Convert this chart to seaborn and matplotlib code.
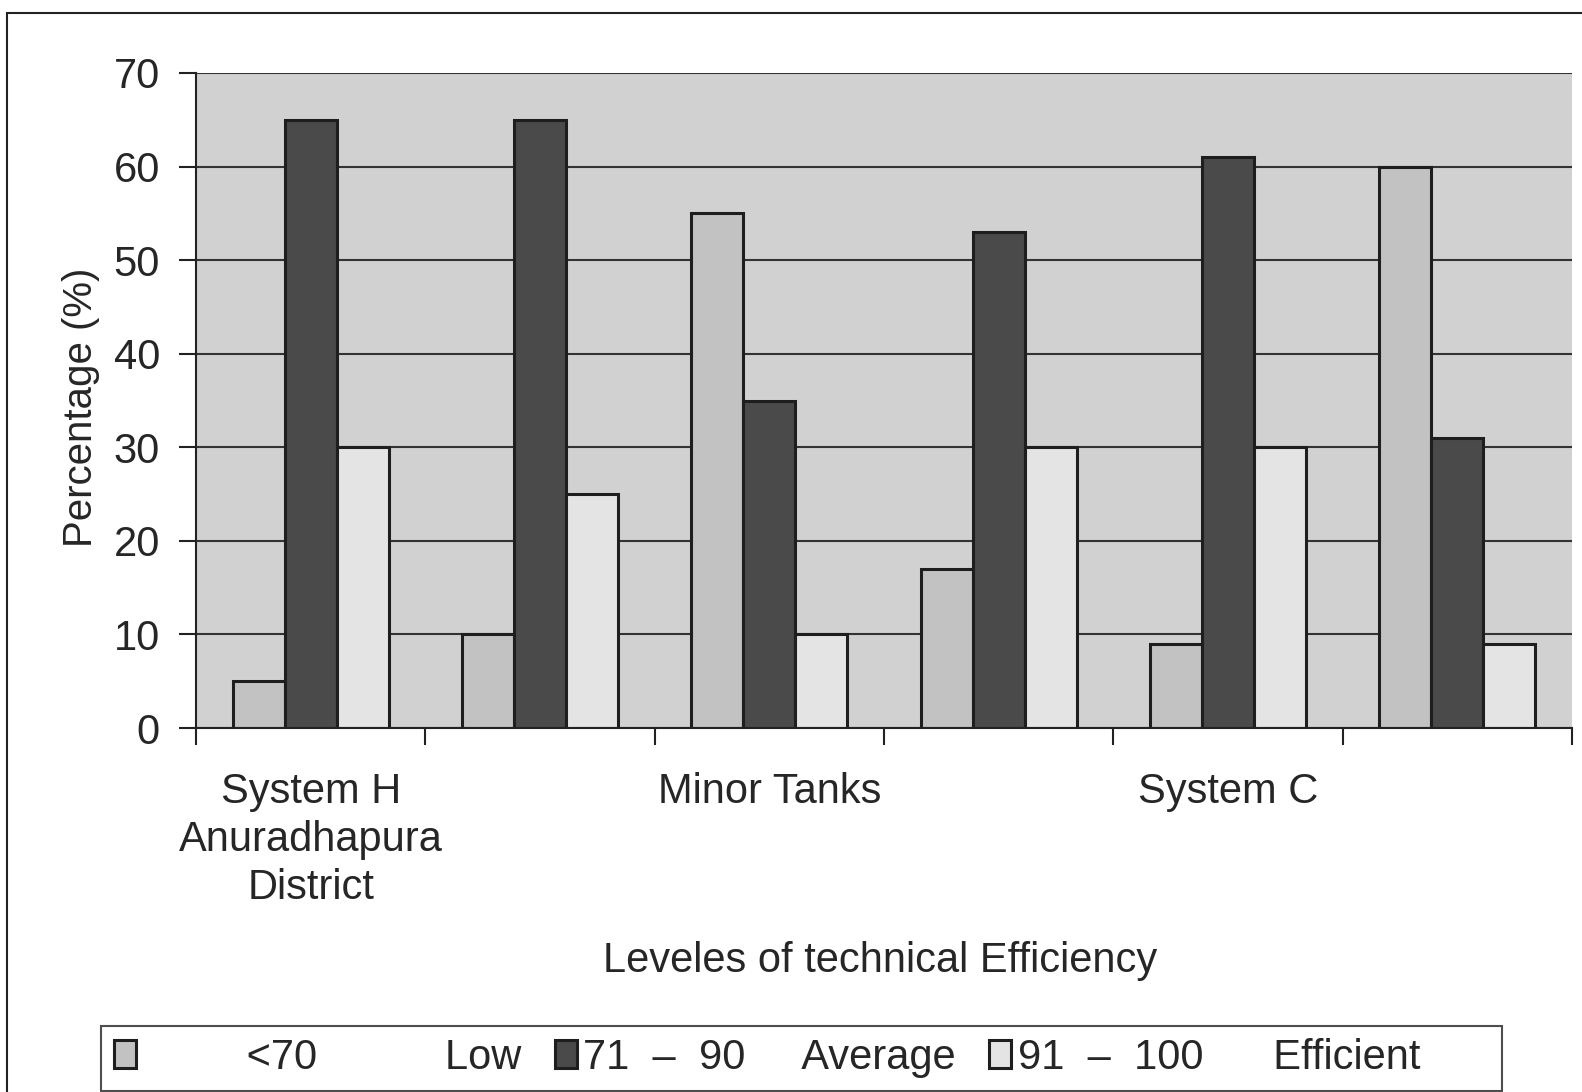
import numpy as np
import pandas as pd
import matplotlib
matplotlib.use("Agg")
import matplotlib.pyplot as plt
from matplotlib.patches import Rectangle
from matplotlib.ticker import FixedLocator
import seaborn as sns

# ---- data ----
group_ids = [0, 1, 2, 3, 4, 5]
group_labels = ["System H\nAnuradhapura\nDistrict", "", "Minor Tanks", "", "System C", ""]
levels = ["         <70           Low  ",
          "71  \u2013  90     Average  ",
          "91  \u2013  100      Efficient      "]
low_vals = [5, 10, 55, 17, 9, 60]
avg_vals = [65, 65, 35, 53, 61, 31]
eff_vals = [30, 25, 10, 30, 30, 9]
y_ticks = [0, 10, 20, 30, 40, 50, 60, 70]

df = pd.DataFrame({
    "group": group_ids * 3,
    "level": [levels[0]] * 6 + [levels[1]] * 6 + [levels[2]] * 6,
    "pct": low_vals + avg_vals + eff_vals,
})

sns.set_style("white")
plt.rcParams["font.family"] = ["Liberation Sans", "DejaVu Sans"]
FS = 30

fig = plt.figure(figsize=(15.82, 10.92), dpi=100)
ax = fig.add_axes([196 / 1582, 1 - 728 / 1092, 1376 / 1582, 655 / 1092])
ax.set_facecolor("#d1d1d1")

palette = {levels[0]: "#c2c2c2", levels[1]: "#4a4a4a", levels[2]: "#e4e4e4"}
sns.barplot(data=df, x="group", y="pct", hue="level", hue_order=levels,
            order=group_ids, palette=palette, width=0.68,
            edgecolor="#1e1e1e", linewidth=2.2, saturation=1, ax=ax)

ax.set_ylim(0, 70)
ax.set_xlim(-0.5, 5.5)
ax.set_yticks(y_ticks)
ax.tick_params(axis="y", labelsize=FS, length=12, width=1.5, direction="out",
               pad=14, color="#222222", left=True)
ax.set_xticks(group_ids)
ax.set_xticklabels(group_labels, fontsize=FS, linespacing=1.25)
ax.tick_params(axis="x", which="major", length=0, pad=32)
ax.xaxis.set_minor_locator(FixedLocator(np.arange(-0.5, 6, 1)))
ax.tick_params(axis="x", which="minor", length=12, width=1.5, color="#222222",
               bottom=True, direction="out")

ax.yaxis.grid(True, color="#333333", linewidth=1.5)
ax.set_axisbelow(True)
for s in ["top", "right"]:
    ax.spines[s].set_visible(False)
for s in ["left", "bottom"]:
    ax.spines[s].set_color("#222222")
    ax.spines[s].set_linewidth(1.5)

ax.set_ylabel("Percentage (%)", fontsize=29)
ax.yaxis.set_label_coords(-0.07, 0.49)
ax.set_xlabel("Leveles of technical Efficiency", fontsize=FS)
ax.xaxis.set_label_coords(0.497, -0.325)

handles, labels = ax.get_legend_handles_labels()
ax.get_legend().remove()
leg = fig.legend(handles, labels, loc="center left", ncol=3,
                 bbox_to_anchor=(101 / 1582, 1 - 1058 / 1092),
                 fontsize=FS, frameon=True, fancybox=False,
                 handlelength=0.53, handleheight=0.65, handletextpad=0.15,
                 columnspacing=0.25, borderpad=0.3, borderaxespad=0)
leg.get_frame().set_edgecolor("#222222")
leg.get_frame().set_linewidth(1.5)

# outer frame of the figure
fig.patches.append(Rectangle((7 / 1582, -0.05), 1.2, 1 - 13 / 1092 + 0.05,
                             transform=fig.transFigure, fill=False,
                             edgecolor="#222222", linewidth=1.5))

fig.savefig("out.png", dpi=100)
